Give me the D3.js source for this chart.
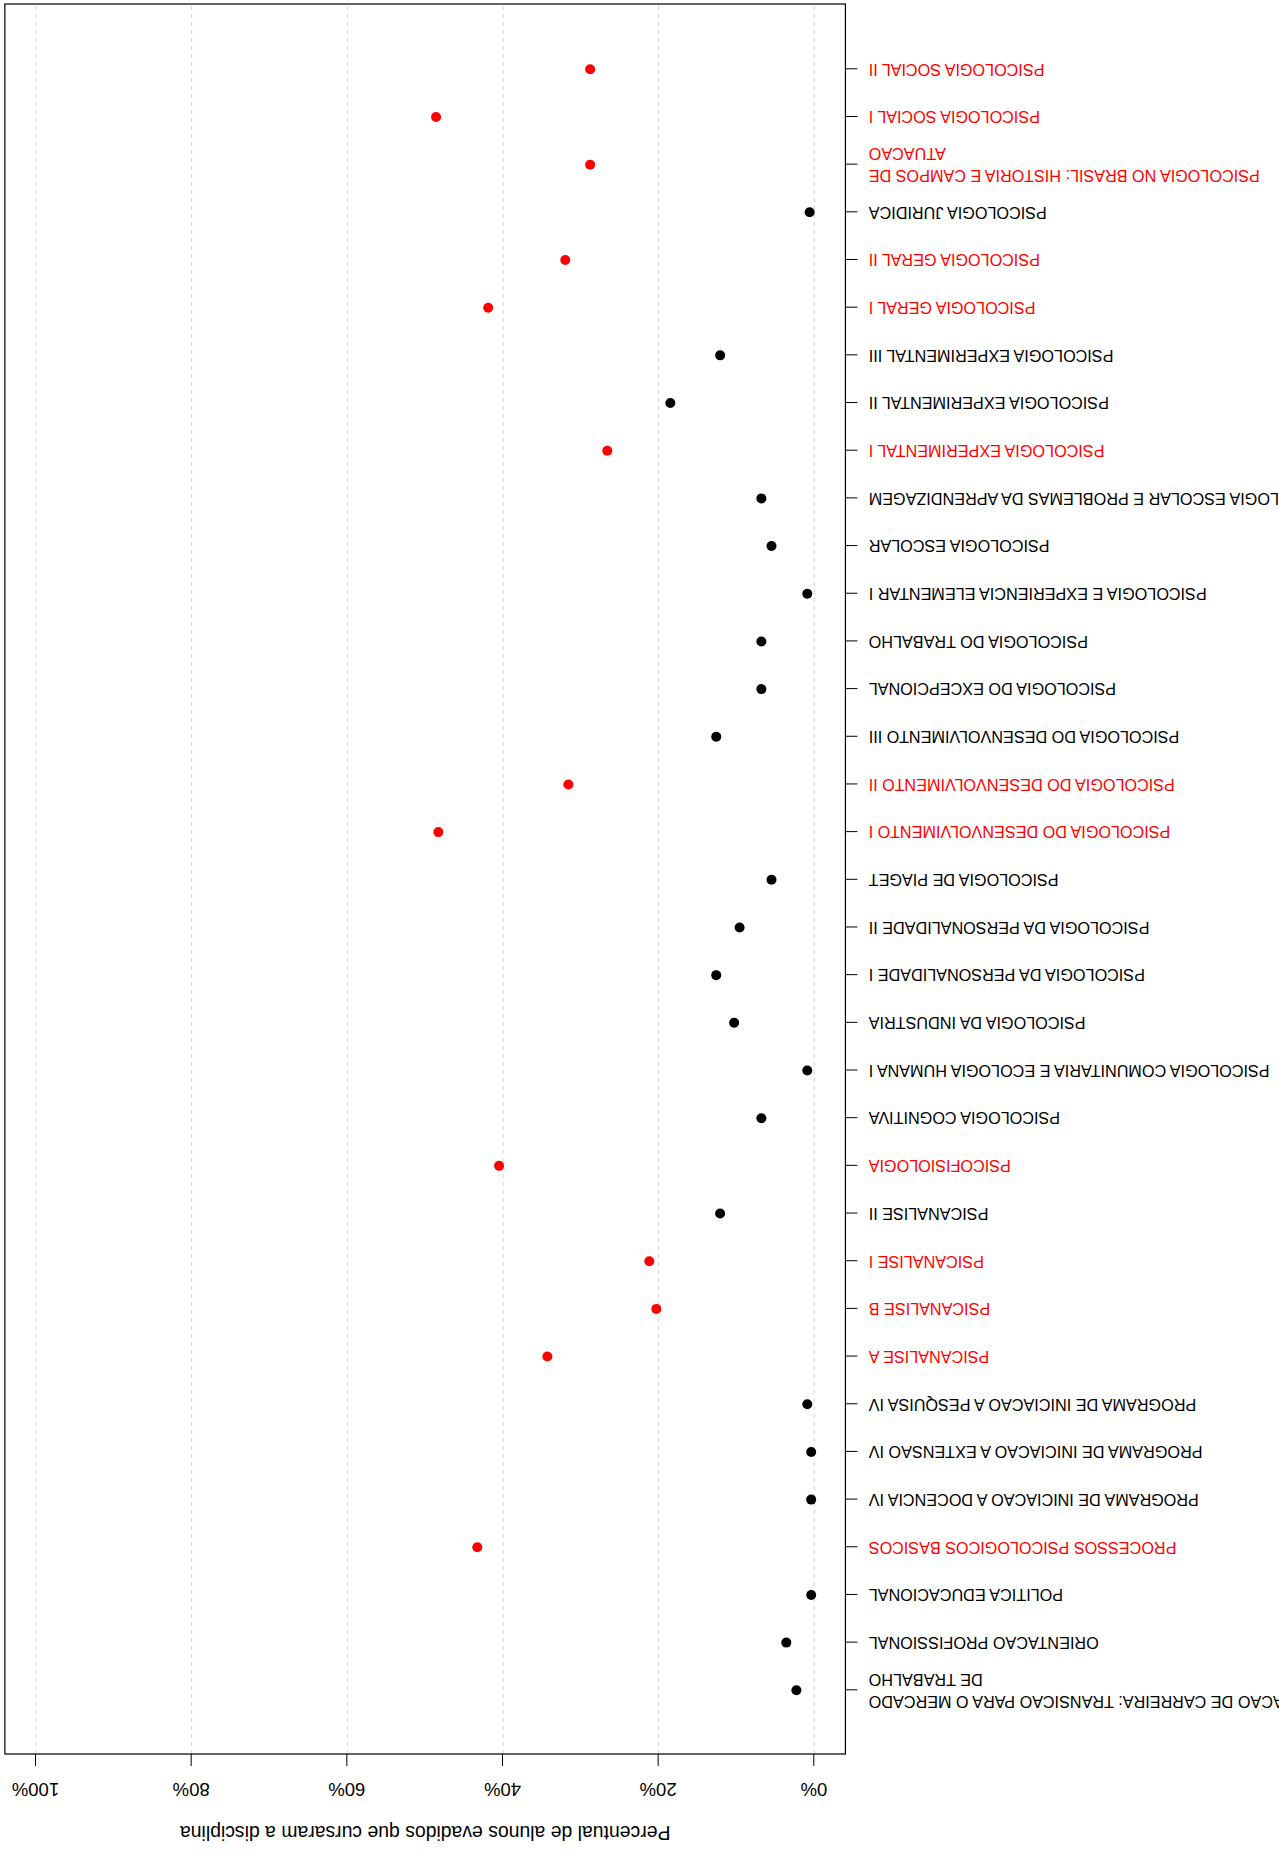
<!DOCTYPE html>
<html>
<head>
<meta charset="utf-8">
<script src="https://cdn.jsdelivr.net/npm/d3@7"></script>
<style>
html, body { margin: 0; padding: 0; background: #fff; }
svg { display: block; font-family: "Liberation Sans", Arial, Helvetica, sans-serif; }
</style>
</head>
<body>
<svg id="chart" width="1279" height="1854"></svg>
<script>
// Categories (alphabetical, top to bottom before the 180° rotation)
const categories = [
  "ORIENTACAO DE CARREIRA: TRANSICAO PARA O MERCADO\nDE TRABALHO",
  "ORIENTACAO PROFISSIONAL",
  "POLITICA EDUCACIONAL",
  "PROCESSOS PSICOLOGICOS BASICOS",
  "PROGRAMA DE INICIACAO A DOCENCIA IV",
  "PROGRAMA DE INICIACAO A EXTENSAO IV",
  "PROGRAMA DE INICIACAO A PESQUISA IV",
  "PSICANALISE A",
  "PSICANALISE B",
  "PSICANALISE I",
  "PSICANALISE II",
  "PSICOFISIOLOGIA",
  "PSICOLOGIA COGNITIVA",
  "PSICOLOGIA COMUNITARIA E ECOLOGIA HUMANA I",
  "PSICOLOGIA DA INDUSTRIA",
  "PSICOLOGIA DA PERSONALIDADE I",
  "PSICOLOGIA DA PERSONALIDADE II",
  "PSICOLOGIA DE PIAGET",
  "PSICOLOGIA DO DESENVOLVIMENTO I",
  "PSICOLOGIA DO DESENVOLVIMENTO II",
  "PSICOLOGIA DO DESENVOLVIMENTO III",
  "PSICOLOGIA DO EXCEPCIONAL",
  "PSICOLOGIA DO TRABALHO",
  "PSICOLOGIA E EXPERIENCIA ELEMENTAR I",
  "PSICOLOGIA ESCOLAR",
  "PSICOLOGIA ESCOLAR E PROBLEMAS DA APRENDIZAGEM",
  "PSICOLOGIA EXPERIMENTAL I",
  "PSICOLOGIA EXPERIMENTAL II",
  "PSICOLOGIA EXPERIMENTAL III",
  "PSICOLOGIA GERAL I",
  "PSICOLOGIA GERAL II",
  "PSICOLOGIA JURIDICA",
  "PSICOLOGIA NO BRASIL: HISTORIA E CAMPOS DE\nATUACAO",
  "PSICOLOGIA SOCIAL I",
  "PSICOLOGIA SOCIAL II"
];

// Percent of dropout students who took the course
const values = [
  2.3, 3.6, 0.4, 43.3, 0.4, 0.4, 0.9, 34.3, 20.3, 21.2,
  12.1, 40.5, 6.8, 0.9, 10.3, 12.6, 9.6, 5.5, 48.3, 31.6,
  12.6, 6.8, 6.8, 0.9, 5.5, 6.8, 26.6, 18.5, 12.1, 41.9,
  32.0, 0.6, 28.8, 48.6, 28.8
];

const xTicks = [0, 20, 40, 60, 80, 100];
const xTitle = "Percentual de alunos evadidos que cursaram a disciplina";
const highlightThreshold = 19;

const W = 1279, H = 1854;
const svg = d3.select("#chart");
const root = svg.append("g").attr("transform", `rotate(180 ${W / 2} ${H / 2})`);

const x = d3.scaleLinear().domain([0, 100]).range([464.7, 1243]);
const y = d3.scalePoint().domain(categories).range([163.7, 1784.7]);
const boxTop = 100, boxBottom = 1850;
const boxLeft = x(-4), boxRight = x(104);

const colorOf = v => v > highlightThreshold ? "#ff0000" : "#000000";
const valueOf = new Map(categories.map((c, i) => [c, values[i]]));

// Grid lines
root.append("g").selectAll("line").data(xTicks).join("line")
  .attr("x1", d => x(d)).attr("x2", d => x(d))
  .attr("y1", boxTop).attr("y2", boxBottom)
  .attr("stroke", "#d3d3d3").attr("stroke-width", 1)
  .attr("stroke-dasharray", "4,4");

// Points
root.append("g").selectAll("circle").data(categories).join("circle")
  .attr("cx", (d, i) => x(values[i]))
  .attr("cy", d => y(d))
  .attr("r", 5)
  .attr("fill", (d, i) => colorOf(values[i]));

// Box
root.append("rect")
  .attr("x", boxLeft).attr("y", boxTop)
  .attr("width", boxRight - boxLeft).attr("height", boxBottom - boxTop)
  .attr("fill", "none").attr("stroke", "#000").attr("stroke-width", 1.2);

// X axis (top before rotation)
const xAxis = root.append("g")
  .attr("transform", `translate(0,${boxTop})`)
  .call(d3.axisTop(x).tickValues(xTicks).tickFormat(d => d + "%")
    .tickSize(12).tickPadding(17.3).tickSizeOuter(0));
xAxis.select(".domain").remove();
xAxis.selectAll(".tick line").attr("stroke", "#000");
xAxis.selectAll(".tick text")
  .attr("font-size", 18.5).attr("font-family", "Liberation Sans, Arial, sans-serif")
  .attr("fill", "#000");

// Y axis (left before rotation)
const yAxis = root.append("g")
  .attr("transform", `translate(${boxLeft},0)`)
  .call(d3.axisLeft(y).tickSize(12).tickPadding(11.3).tickSizeOuter(0));
yAxis.select(".domain").remove();
yAxis.selectAll(".tick line").attr("stroke", "#000");
yAxis.selectAll(".tick text").each(function(d) {
  const t = d3.select(this);
  const lines = d.split("\n");
  t.text(null)
    .attr("font-size", 16.2)
    .attr("font-family", "Liberation Sans, Arial, sans-serif")
    .attr("fill", colorOf(valueOf.get(d)));
  if (lines.length === 1) {
    t.text(lines[0]);
  } else {
    const xx = t.attr("x");
    t.attr("dy", null);
    lines.forEach((ln, k) => {
      t.append("tspan")
        .attr("x", xx)
        .attr("y", (k - (lines.length - 1) / 2) * 22)
        .attr("dy", "0.32em")
        .text(ln);
    });
  }
});

// X axis title
root.append("text")
  .attr("x", (boxLeft + boxRight) / 2)
  .attr("y", 28)
  .attr("text-anchor", "middle")
  .attr("font-size", 19.4)
  .attr("fill", "#000")
  .text(xTitle);
</script>
</body>
</html>
